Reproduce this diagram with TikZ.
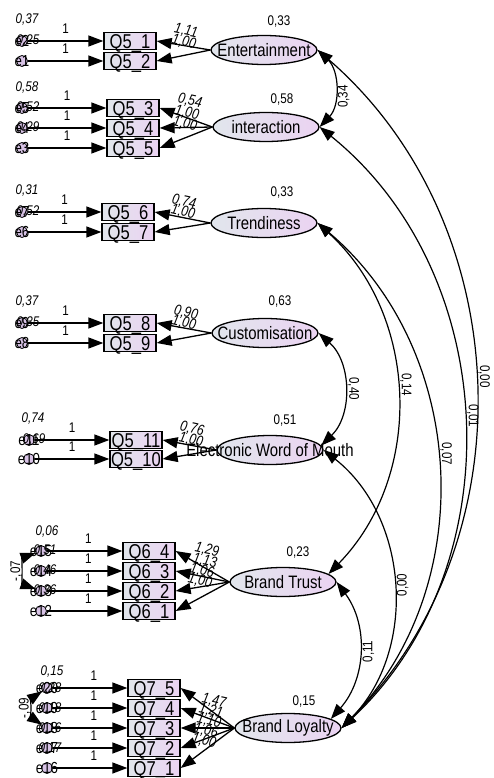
\documentclass[tikz,border=0pt]{standalone}
\usepackage{fontspec}
\setmainfont{Liberation Sans}[FakeStretch=0.83]
\usetikzlibrary{shapes.geometric,arrows.meta,calc}

\definecolor{lgray}{HTML}{E1E6EC}
\definecolor{llav}{HTML}{EBD3F2}
\definecolor{efill}{HTML}{D8C3E6}

\newcommand\latsz{\fontsize{18}{20}\selectfont}
\newcommand\obssz{\fontsize{20}{22}\selectfont}
\newcommand\numsz{\fontsize{14}{16}\selectfont}
\newcommand\ldsz{\fontsize{15}{17}\selectfont}
\newcommand\errsz{\fontsize{16}{18}\selectfont}

\tikzset{
  >={Triangle[length=15pt,width=11pt]},
  obs/.style={draw=black, line width=1.3pt, rectangle, minimum width=52pt,
    minimum height=17pt, inner sep=0pt, text height=14.5pt, text depth=0pt,
    left color=lgray, right color=llav, font=\obssz},
  lat/.style={draw=black, line width=1.3pt, ellipse, minimum width=106pt,
    minimum height=29pt, inner sep=0pt, left color=lgray, right color=llav},
  latname/.style={font=\latsz, inner sep=0pt},
  err/.style={circle, draw=black, line width=0.8pt, minimum size=11pt,
    inner sep=0pt, fill=efill},
  errname/.style={font=\errsz, inner sep=0pt},
  evar/.style={font=\numsz\itshape, inner sep=0pt},
  lvar/.style={font=\numsz, inner sep=0pt},
  fix/.style={font=\numsz, inner sep=0pt},
  ld/.style={font=\ldsz\itshape, inner sep=0pt, rotate=-12},
  reg/.style={line width=1.3pt, ->},
  cov/.style={line width=1.2pt, <->},
  cl/.style={font=\numsz, inner sep=3pt, rotate=-90, anchor=south},
  cr/.style={font=\numsz, inner sep=3pt, rotate=90, anchor=north},
  cle/.style={font=\numsz, inner sep=3pt, rotate=90, anchor=south},
}

\begin{document}
\begin{tikzpicture}[x=1pt, y=-1pt]
\useasboundingbox (0,0) rectangle (494,778);

% ---------- Entertainment ----------
\node[lat, label={[latname]center:Entertainment}] (ent) at (264,50) {};
\node[lvar] at (279,22) {0,33};
\node[obs] (q51) at (130,41) {Q5\_1};
\node[obs] (q52) at (130,61) {Q5\_2};
\node[err, label={[errname]center:e2}] (e2) at (22,41) {};
\node[err, label={[errname]center:e1}] (e1) at (22,61) {};
\node[evar] at (27,20) {0,37};
\node[evar] at (28,41) {0,25};
\draw[reg] (e2) -- node[fix, above=7pt] {1} (q51);
\draw[reg] (e1) -- node[fix, above=7pt] {1} (q52);
\draw[reg] (ent.west) -- (q51.east);
\draw[reg] (ent.west) -- (q52.east);
\node[ld] at (186,31) {1,11};
\node[ld] at (184,42) {1,00};

% ---------- interaction ----------
\node[lat, label={[latname]center:interaction}] (int) at (266,127) {};
\node[lvar] at (282,100) {0,58};
\node[obs] (q53) at (133,108) {Q5\_3};
\node[obs] (q54) at (133,128) {Q5\_4};
\node[obs] (q55) at (133,148) {Q5\_5};
\node[err, label={[errname]center:e5}] (e5) at (22,108) {};
\node[err, label={[errname]center:e4}] (e4) at (22,128) {};
\node[err, label={[errname]center:e3}] (e3) at (22,148) {};
\node[evar] at (27,88) {0,58};
\node[evar] at (28,108) {0,52};
\node[evar] at (28,128) {0,29};
\draw[reg] (e5) -- node[fix, above=7pt] {1} (q53);
\draw[reg] (e4) -- node[fix, above=7pt] {1} (q54);
\draw[reg] (e3) -- node[fix, above=7pt] {1} (q55);
\draw[reg] (int.west) -- (q53.east);
\draw[reg] (int.west) -- (q54.east);
\draw[reg] (int.west) -- (q55.east);
\node[ld] at (190,101) {0,54};
\node[ld] at (187,113) {1,00};
\node[ld] at (185,124) {1,00};

% ---------- Trendiness ----------
\node[lat, label={[latname]center:Trendiness}] (trend) at (264,223) {};
\node[lvar] at (282,193) {0,33};
\node[obs] (q56) at (128,212) {Q5\_6};
\node[obs] (q57) at (128,232) {Q5\_7};
\node[err, label={[errname]center:e7}] (e7) at (22,212) {};
\node[err, label={[errname]center:e6}] (e6) at (22,232) {};
\node[evar] at (27,191) {0,31};
\node[evar] at (28,212) {0,52};
\draw[reg] (e7) -- node[fix, above=7pt] {1} (q56);
\draw[reg] (e6) -- node[fix, above=7pt] {1} (q57);
\draw[reg] (trend.west) -- (q56.east);
\draw[reg] (trend.west) -- (q57.east);
\node[ld] at (184,202) {0,74};
\node[ld] at (183,212) {1,00};

% ---------- Customisation ----------
\node[lat, label={[latname]center:Customisation}] (cust) at (265,333) {};
\node[lvar] at (280,302) {0,63};
\node[obs] (q58) at (130,323) {Q5\_8};
\node[obs] (q59) at (130,343) {Q5\_9};
\node[err, label={[errname]center:e9}] (e9) at (22,323) {};
\node[err, label={[errname]center:e8}] (e8) at (22,343) {};
\node[evar] at (27,302) {0,37};
\node[evar] at (28,323) {0,35};
\draw[reg] (e9) -- node[fix, above=7pt] {1} (q58);
\draw[reg] (e8) -- node[fix, above=7pt] {1} (q59);
\draw[reg] (cust.west) -- (q58.east);
\draw[reg] (cust.west) -- (q59.east);
\node[ld] at (186,313) {0,90};
\node[ld] at (184,323) {1,00};

% ---------- Electronic Word of Mouth ----------
\node[lat, label={[latname]center:Electronic Word of Mouth}] (ewom) at (270,450) {};
\node[lvar] at (285,421) {0,51};
\node[obs] (q511) at (136,440) {Q5\_11};
\node[obs] (q510) at (136,459) {Q5\_10};
\node[err, label={[errname]center:e11}] (e11) at (29,440) {};
\node[err, label={[errname]center:e10}] (e10) at (29,459) {};
\node[evar] at (33,419) {0,74};
\node[evar] at (34,440) {0,69};
\draw[reg] (e11) -- node[fix, above=7pt] {1} (q511);
\draw[reg] (e10) -- node[fix, above=7pt] {1} (q510);
\draw[reg] (ewom.west) -- (q511.east);
\draw[reg] (ewom.west) -- (q510.east);
\node[ld] at (192,429) {0,76};
\node[ld] at (191,440) {1,00};

% ---------- Brand Trust ----------
\node[lat, label={[latname]center:Brand Trust}] (bt) at (283,582) {};
\node[lvar] at (298,553) {0,23};
\node[obs] (q64) at (149,551) {Q6\_4};
\node[obs] (q63) at (149,571) {Q6\_3};
\node[obs] (q62) at (149,591) {Q6\_2};
\node[obs] (q61) at (149,611) {Q6\_1};
\node[err, label={[errname]center:e15}] (e15) at (41,551) {};
\node[err, label={[errname]center:e14}] (e14) at (41,571) {};
\node[err, label={[errname]center:e13}] (e13) at (41,591) {};
\node[err, label={[errname]center:e12}] (e12) at (41,611) {};
\node[evar] at (47,532) {0,06};
\node[evar] at (45,551) {0,51};
\node[evar] at (45,571) {0,46};
\node[evar] at (45,591) {0,36};
\draw[reg] (e15) -- node[fix, above=7pt, pos=.55] {1} (q64);
\draw[reg] (e14) -- node[fix, above=7pt, pos=.55] {1} (q63);
\draw[reg] (e13) -- node[fix, above=7pt, pos=.55] {1} (q62);
\draw[reg] (e12) -- node[fix, above=7pt, pos=.55] {1} (q61);
\draw[reg] (bt.west) -- (q64.east);
\draw[reg] (bt.west) -- (q63.east);
\draw[reg] (bt.west) -- (q62.east);
\draw[reg] (bt.west) -- (q61.east);
\node[ld] at (207,550) {1,29};
\node[ld] at (205,561) {1,13};
\node[ld] at (202,571) {1,06};
\node[ld] at (200,581) {1,00};
\draw[cov] (e15) to[bend right=70] node[pos=.5, cle] {-,07} (e13);

% ---------- Brand Loyalty ----------
\node[lat, label={[latname]center:Brand Loyalty}] (bl) at (288,728) {};
\node[lvar] at (304,701) {0,15};
\node[obs] (q75) at (154,688) {Q7\_5};
\node[obs] (q74) at (154,708) {Q7\_4};
\node[obs] (q73) at (154,728) {Q7\_3};
\node[obs] (q72) at (154,748) {Q7\_2};
\node[obs] (q71) at (154,768) {Q7\_1};
\node[err, label={[errname]center:e20}] (e20) at (47,688) {};
\node[err, label={[errname]center:e19}] (e19) at (47,708) {};
\node[err, label={[errname]center:e18}] (e18) at (47,728) {};
\node[err, label={[errname]center:e17}] (e17) at (47,748) {};
\node[err, label={[errname]center:e16}] (e16) at (47,768) {};
\node[evar] at (52,671) {0,15};
\node[evar] at (50,688) {0,28};
\node[evar] at (50,708) {0,18};
\node[evar] at (50,728) {0,16};
\node[evar] at (50,748) {0,17};
\draw[reg] (e20) -- node[fix, above=7pt, pos=.55] {1} (q75);
\draw[reg] (e19) -- node[fix, above=7pt, pos=.55] {1} (q74);
\draw[reg] (e18) -- node[fix, above=7pt, pos=.55] {1} (q73);
\draw[reg] (e17) -- node[fix, above=7pt, pos=.55] {1} (q72);
\draw[reg] (e16) -- node[fix, above=7pt, pos=.55] {1} (q71);
\draw[reg] (bl.west) -- (q75.east);
\draw[reg] (bl.west) -- (q74.east);
\draw[reg] (bl.west) -- (q73.east);
\draw[reg] (bl.west) -- (q72.east);
\draw[reg] (bl.west) -- (q71.east);
\node[ld] at (214,701) {1,47};
\node[ld] at (211,711) {1,21};
\node[ld] at (209,721) {1,10};
\node[ld] at (206,731) {1,06};
\node[ld] at (204,741) {1,00};
\draw[cov] (e20) to[bend right=56] node[pos=.5, cle] {-,09} (e18);

% ---------- covariances between latent variables ----------
\draw[cov] (ent.east) to[bend left=45] node[pos=.6, cr] {0,34} (int.east);
\draw[cov] (cust.east) to[bend left=47] node[pos=.5, cl] {0,40} (ewom.5);
\draw[cov] (bt.east) to[bend left=39] node[pos=.5, cr] {0,11} (bl.12);
\draw[cov] (trend.east) to[bend left=46] node[pos=.47, cl] {0,14} (bt.10);
\draw[cov] (trend.east) to[bend left=47] node[pos=.47, cl] {0,07} (bl.east);
\draw[cov] (int.east) to[bend left=49] node[pos=.49, cl] {0,01} (bl.east);
\draw[cov] (ent.east) to[bend left=47] node[pos=.49, cl] {0,00} (bl.east);
\draw[cov] (ewom.east) to[bend left=48] node[pos=.5, cr] {0,00} (bl.east);
\end{tikzpicture}
\end{document}
